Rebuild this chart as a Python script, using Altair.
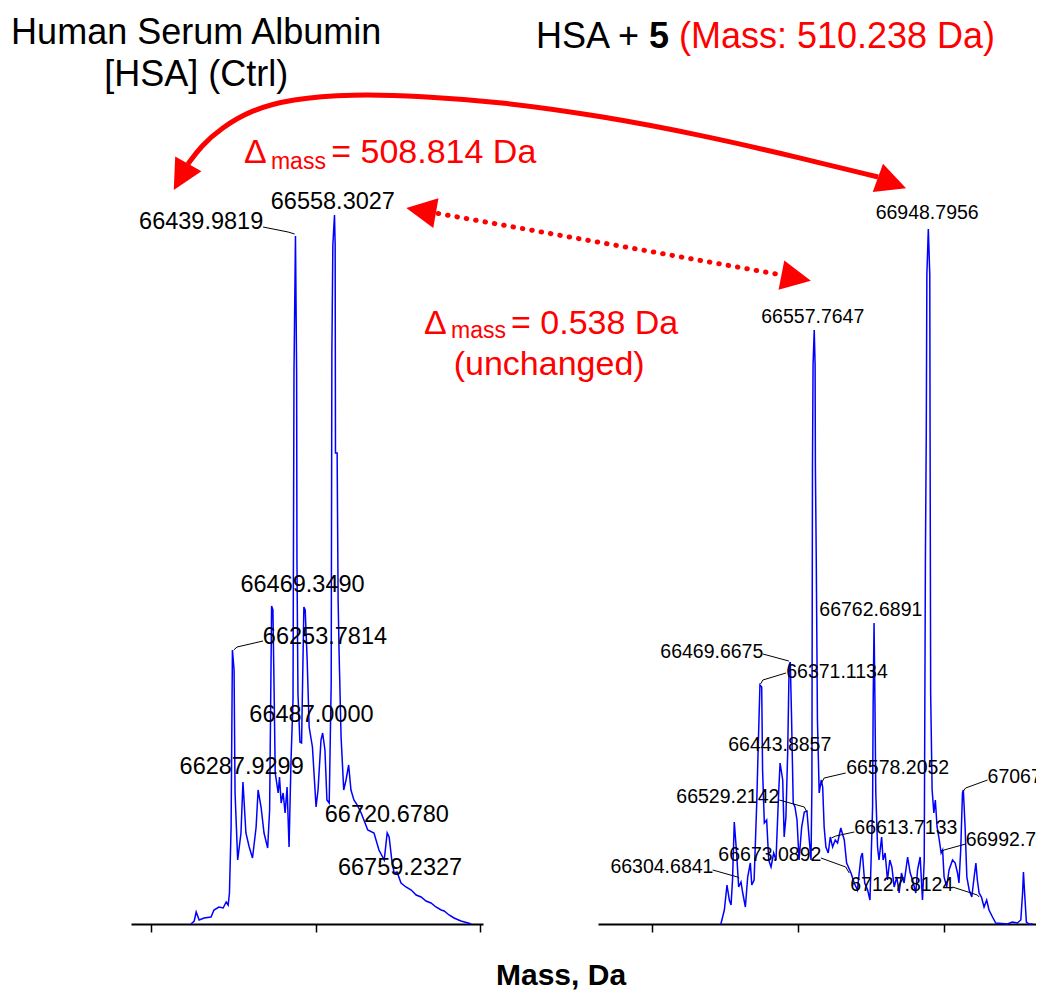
import altair as alt
import pandas as pd

# ---------------- data ----------------
TICKS = [66000, 66500, 67000]

# HSA (Ctrl) deconvoluted spectrum: mass (Da), intensity (a.u.)
left_mass = [66121, 66131, 66137, 66146, 66161, 66182, 66191, 66206, 66219, 66228,
             66234, 66238, 66243, 66247, 66252, 66255, 66263, 66273, 66279, 66288,
             66298, 66308, 66319, 66325, 66334, 66343, 66354, 66360, 66366, 66370,
             66374, 66377, 66386, 66390, 66395, 66401, 66407, 66413, 66419, 66425,
             66431, 66434, 66438.5, 66442, 66443, 66446, 66452, 66457, 66464, 66468,
             66474, 66480, 66490, 66501, 66507, 66516, 66521, 66528, 66534, 66541,
             66547, 66549, 66552, 66557, 66559, 66560, 66565, 66568, 66571, 66577,
             66585, 66592, 66600, 66607, 66616, 66626, 66638, 66658, 66677, 66692,
             66708, 66717, 66723, 66731, 66738, 66747, 66759, 66774, 66790, 66805,
             66820, 66835, 66850, 66865, 66881, 66890, 66905, 66920, 66941, 66963,
             66972]
left_int = [0, 3, 12, 4, 6, 7, 14, 17, 16, 22,
            19, 31, 97, 274, 254, 131, 64, 91, 142, 91,
            77, 66, 97, 134, 117, 91, 76, 114, 318, 314,
            224, 151, 131, 147, 121, 131, 111, 137, 77, 164,
            224, 552, 688, 551, 364, 231, 182, 181, 317, 314,
            264, 197, 177, 117, 134, 184, 191, 174, 124, 121,
            241, 571, 679, 709, 679, 471, 471, 324, 271, 187,
            134, 144, 159, 134, 124, 119, 111, 94, 91, 74,
            64, 91, 87, 64, 51, 52, 41, 37, 34, 29,
            27, 23, 21, 17, 14, 13, 9, 6, 3, 1,
            0]

# HSA + 5 deconvoluted spectrum
right_mass = [66236, 66248, 66257, 66265, 66271, 66276, 66282, 66290, 66297, 66305,
              66311, 66320, 66328, 66337, 66342, 66350, 66359, 66364, 66370, 66376,
              66379, 66385, 66393, 66400, 66408, 66417, 66425, 66434, 66439, 66448,
              66453, 66459, 66465, 66470, 66474, 66478, 66484, 66490, 66497, 66504,
              66513, 66522, 66531, 66539, 66545, 66548, 66550, 66552, 66556, 66559,
              66560, 66563, 66567, 66573, 66580, 66585, 66590, 66596, 66604, 66611,
              66619, 66628, 66636, 66647, 66659, 66667, 66682, 66693, 66704, 66716,
              66721, 66729, 66739, 66747, 66756, 66758, 66761, 66764, 66767, 66773,
              66778, 66787, 66792, 66799, 66807, 66815, 66822, 66830, 66839, 66847,
              66855, 66864, 66876, 66885, 66893, 66904, 66910, 66919, 66927, 66933,
              66937, 66940, 66942, 66947, 66952, 66953, 66955, 66960, 66966, 66971,
              66977, 66983, 66991, 66996, 67001, 67010, 67018, 67030, 67039, 67047,
              67052, 67058, 67064, 67067, 67073, 67079, 67087, 67096, 67104, 67110,
              67115, 67121, 67129, 67138, 67147, 67155, 67167, 67178, 67218, 67235,
              67252, 67264, 67270, 67273, 67277, 67283, 67292, 67305]
right_int = [0, 14, 39, 24, 19, 44, 102, 71, 37, 42,
             31, 17, 47, 61, 39, 44, 121, 177, 239, 237,
             154, 101, 104, 64, 57, 71, 64, 131, 161, 144,
             87, 107, 171, 259, 262, 211, 121, 117, 104, 64,
             97, 112, 113, 84, 64, 137, 457, 559, 594, 559,
             457, 364, 204, 131, 144, 137, 97, 77, 71, 87,
             77, 84, 81, 96, 84, 61, 51, 41, 34, 67,
             71, 41, 34, 24, 117, 224, 301, 224, 131, 77,
             64, 87, 64, 71, 44, 64, 57, 37, 47, 31,
             51, 41, 67, 51, 44, 31, 54, 67, 24, 64,
             364, 492, 649, 695, 649, 492, 231, 134, 111, 124,
             97, 87, 71, 74, 47, 37, 54, 64, 61, 51,
             41, 74, 131, 134, 97, 47, 34, 27, 47, 61,
             44, 31, 27, 17, 24, 14, 7, 1, 0, 2,
             1, 4, 31, 52, 31, 2, 0, 0]

# peak labels (text, label position mass, label position intensity)
left_lab_text = ["66439.9819", "66558.3027", "66469.3490", "66253.7814",
                 "66487.0000", "66287.9299", "66720.6780", "66759.2327"]
left_lab_mass = [66152, 66552, 66460, 66528, 66487, 66275, 66716, 66756]
left_lab_int = [702, 722, 339, 287, 209, 157, 109, 56]

right_lab_text = ["66948.7956", "66557.7647", "66762.6891", "66469.6675", "66371.1134",
                  "66443.8857", "66578.2052", "66529.2142", "66613.7133", "66673.0892",
                  "66304.6841", "67127.8124"]
right_lab_mass = [66943, 66551, 66750, 66205, 66634, 66438, 66842, 66260, 66870, 66404,
                  66034, 66856]
right_lab_int = [711, 607, 314, 272, 252, 179, 156, 127, 96, 69, 57, 39]
# labels cut by the right edge of the figure (start position)
right_cut_text = ["67067", "66992.7"]
right_cut_mass = [67150, 67075]
right_cut_int = [147, 84]

# leader lines
left_leader_group = [1, 1, 1, 2, 2, 2]
left_leader_mass = [66340, 66416, 66436, 66340, 66261, 66251]
left_leader_int = [697, 692, 690, 283, 277, 274]

right_leader_group = [1, 1, 2, 2, 2, 3, 3, 3, 4, 4, 4, 5, 5, 5, 6, 6, 6,
                      7, 7, 7, 8, 8, 8, 9, 9, 9, 10, 10, 10]
right_leader_mass = [66380, 66469, 66459, 66380, 66372, 66664, 66590, 66581,
                     66436, 66522, 66531, 67150, 67075, 67067, 66693, 66630, 66615,
                     67075, 67001, 66992, 66579, 66664, 66676, 66208, 66293, 66299,
                     67030, 67115, 67121]
right_leader_int = [270, 263, 251, 244, 240, 151, 146, 141, 124, 117, 112,
                    144, 136, 133, 92, 88, 86, 80, 74, 72, 66, 57, 51,
                    54, 47, 46, 37, 29, 27]

# annotation geometry (expressed in the left panel's mass / intensity frame)
curve_mass = [68208, 67974, 67670, 67367, 67063, 66820, 66607, 66425, 66304, 66213, 66152, 66112]
curve_int = [747, 766, 789, 808, 822, 828, 830, 825, 814, 796, 778, 760]
dotted_mass = [66872, 67907]
dotted_int = [710.5, 649.5]
head_mass = [66091, 68250, 66820, 67959]
head_int = [747, 741, 713.5, 646]
head_angle = [209, 110, 280, 101]

RED = "#FF0000"
BLUE = "#0000FF"
SANS = "Liberation Sans, Arial, sans-serif"

LEFT_DOMAIN = [65939, 67008]
RIGHT_DOMAIN = [65815, 67316]
INT_DOMAIN = [0, 916]


def xenc(domain):
    return alt.X(
        "mass:Q",
        scale=alt.Scale(domain=domain, nice=False, zero=False),
        axis=alt.Axis(values=TICKS, labels=False, ticks=True, tickSize=8, tickWidth=1.5,
                      tickColor="#000000", domainColor="#000000", domainWidth=2,
                      grid=False, title=None),
    )


def yenc():
    return alt.Y("intensity:Q", scale=alt.Scale(domain=INT_DOMAIN, nice=False, zero=False),
                 axis=None)


def spectrum(mass, inten, domain):
    df = pd.DataFrame({"mass": mass, "intensity": inten, "idx": list(range(len(mass)))})
    return alt.Chart(df).mark_line(color=BLUE, strokeWidth=1.5).encode(
        x=xenc(domain), y=yenc(), order="idx:Q")


def leaders(group, mass, inten, domain, clip=False):
    df = pd.DataFrame({"g": group, "mass": mass, "intensity": inten,
                       "idx": list(range(len(mass)))})
    return alt.Chart(df).mark_line(color="#000000", strokeWidth=1, clip=clip).encode(
        x=xenc(domain), y=yenc(), detail="g:N", order="idx:Q")


def labels(text, mass, inten, domain, size, align="center", clip=False):
    df = pd.DataFrame({"text": text, "mass": mass, "intensity": inten})
    return alt.Chart(df).mark_text(font=SANS, fontSize=size, color="#000000",
                                   align=align, baseline="middle", clip=clip).encode(
        x=xenc(domain), y=yenc(), text="text:N")


def note(text, mass, inten, size, color="#000000", weight="normal", align="left"):
    df = pd.DataFrame({"text": [text], "mass": [mass], "intensity": [inten]})
    return alt.Chart(df).mark_text(font=SANS, fontSize=size, color=color, fontWeight=weight,
                                   align=align, baseline="alphabetic").encode(
        x=xenc(LEFT_DOMAIN), y=yenc(), text="text:N")


# ---------------- left panel ----------------
curve_df = pd.DataFrame({"mass": curve_mass, "intensity": curve_int,
                         "idx": list(range(len(curve_mass)))})
curve = alt.Chart(curve_df).mark_line(color=RED, strokeWidth=5, interpolate="basis").encode(
    x=xenc(LEFT_DOMAIN), y=yenc(), order="idx:Q")

dotted_df = pd.DataFrame({"mass": dotted_mass, "intensity": dotted_int, "idx": [0, 1]})
dotted = alt.Chart(dotted_df).mark_line(color=RED, strokeWidth=5, strokeDash=[0.5, 9],
                                        strokeCap="round").encode(
    x=xenc(LEFT_DOMAIN), y=yenc(), order="idx:Q")

heads_df = pd.DataFrame({"mass": head_mass, "intensity": head_int, "angle": head_angle})
heads = alt.Chart(heads_df).mark_point(shape="M0,-1L-1,1L1,1Z", size=900, filled=True,
                                       color=RED, opacity=1, strokeWidth=0).encode(
    x=xenc(LEFT_DOMAIN), y=yenc(), angle=alt.Angle("angle:Q", scale=None))

anchor = alt.Chart(pd.DataFrame({"mass": [65569], "intensity": [458]})).mark_point(
    opacity=0, size=1).encode(x=xenc(LEFT_DOMAIN), y=yenc())

notes = [
    note("Human Serum Albumin", 66137, 880, 36, align="center"),
    note("[HSA] (Ctrl)", 66137, 838, 36, align="center"),
    note("HSA +", 67169, 876, 36),
    note("5", 67512, 876, 36, weight="bold"),
    note("(Mass: 510.238 Da)", 67603, 876, 36, color=RED),
    note("\u0394", 66282, 761, 34, color=RED),
    note("mass", 66364, 755, 23, color=RED),
    note("= 508.814 Da", 66547, 761, 34, color=RED),
    note("\u0394", 66829, 590, 34, color=RED),
    note("mass", 66911, 586, 23, color=RED),
    note("= 0.538 Da", 67093, 590, 34, color=RED),
    note("(unchanged)", 67209, 549, 34, color=RED, align="center"),
    note("Mass, Da", 67245, -61, 30, weight="bold", align="center"),
]

left = alt.layer(
    anchor,
    spectrum(left_mass, left_int, LEFT_DOMAIN),
    leaders(left_leader_group, left_leader_mass, left_leader_int, LEFT_DOMAIN),
    labels(left_lab_text, left_lab_mass, left_lab_int, LEFT_DOMAIN, 23.5),
    curve, dotted, heads, *notes,
).properties(width=352, height=916)

# ---------------- right panel ----------------
right = alt.layer(
    spectrum(right_mass, right_int, RIGHT_DOMAIN),
    leaders(right_leader_group, right_leader_mass, right_leader_int, RIGHT_DOMAIN, clip=True),
    labels(right_lab_text, right_lab_mass, right_lab_int, RIGHT_DOMAIN, 19.5, clip=True),
    labels(right_cut_text, right_cut_mass, right_cut_int, RIGHT_DOMAIN, 19.5, align="left",
           clip=True),
).properties(width=438, height=916)

chart = alt.hconcat(left, right, spacing=115, bounds="flush", padding=0).configure_view(
    strokeWidth=0)

chart.save("out.html", embed_options={"renderer": "svg", "actions": False})
